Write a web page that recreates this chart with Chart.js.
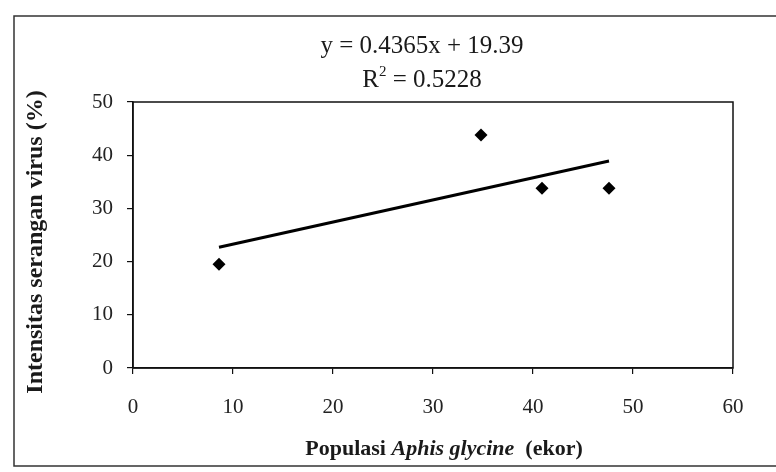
<!DOCTYPE html>
<html><head><meta charset="utf-8">
<script src="https://cdn.jsdelivr.net/npm/chart.js@4"></script>
<style>html,body{margin:0;padding:0;background:#fff;}#wrap{width:776px;height:472px;position:relative;}</style>
</head><body><div id="wrap"><canvas id="c" width="776" height="472"></canvas></div>
<script>
const populasi = [8.6, 34.8, 40.9, 47.6];
const intensitas = [19.5, 43.8, 33.8, 33.8];
const trendX = [8.6, 47.6];
const trendY = [22.7, 38.9];
const xTicks = [0, 10, 20, 30, 40, 50, 60];
const yTicks = [0, 10, 20, 30, 40, 50];
const equationText = "y = 0.4365x + 19.39";
const r2Label = "R";
const r2Value = " = 0.5228";
const yTitle = "Intensitas serangan virus (%)";
const xTitleParts = [["Populasi ", "bold"], ["Aphis glycine", "italic bold"], ["  (ekor)", "bold"]];

const serif = '"Liberation Serif", "DejaVu Serif", serif';

const decor = {
  id: 'decor',
  afterDraw(chart) {
    const ctx = chart.ctx, a = chart.chartArea;
    ctx.save();
    // outer border
    ctx.strokeStyle = '#333'; ctx.lineWidth = 1.5;
    ctx.beginPath();
    ctx.moveTo(776, 16); ctx.lineTo(14, 16); ctx.lineTo(14, 466); ctx.lineTo(776, 466);
    ctx.stroke();
    // plot frame
    ctx.strokeStyle = '#111'; ctx.lineWidth = 1.5;
    ctx.strokeRect(a.left, a.top, a.right - a.left, a.bottom - a.top);
    // equation
    ctx.fillStyle = '#1a1a1a';
    ctx.textAlign = 'center'; ctx.textBaseline = 'alphabetic';
    ctx.font = '25px ' + serif;
    ctx.fillText(equationText, 422, 53);
    const w1 = ctx.measureText(r2Label).width;
    const w2 = ctx.measureText(r2Value).width;
    ctx.font = '15px ' + serif;
    const ws = ctx.measureText('2').width;
    const total = w1 + ws + w2;
    let x0 = 422 - total / 2;
    ctx.textAlign = 'left';
    ctx.font = '25px ' + serif;
    ctx.fillText(r2Label, x0, 87);
    ctx.font = '15px ' + serif;
    ctx.fillText('2', x0 + w1, 76);
    ctx.font = '25px ' + serif;
    ctx.fillText(r2Value, x0 + w1 + ws, 87);
    // y title
    ctx.save();
    ctx.translate(42, 242);
    ctx.rotate(-Math.PI / 2);
    ctx.textAlign = 'center';
    ctx.font = 'bold 24px ' + serif;
    ctx.fillText(yTitle, 0, 0);
    ctx.restore();
    // x title
    let widths = xTitleParts.map(p => { ctx.font = p[1] + ' 22px ' + serif; return ctx.measureText(p[0]).width; });
    let tw = widths.reduce((s, v) => s + v, 0);
    let xx = 444 - tw / 2;
    ctx.textAlign = 'left';
    xTitleParts.forEach((p, i) => { ctx.font = p[1] + ' 22px ' + serif; ctx.fillText(p[0], xx, 455); xx += widths[i]; });
    ctx.restore();
  }
};

new Chart(document.getElementById('c'), {
  type: 'scatter',
  data: {
    datasets: [
      {
        label: 'data',
        data: populasi.map((x, i) => ({x: x, y: intensitas[i]})),
        pointStyle: 'rectRot', radius: 6.5, backgroundColor: '#000', borderColor: '#000', borderWidth: 0,
        showLine: false
      },
      {
        label: 'trend',
        data: trendX.map((x, i) => ({x: x, y: trendY[i]})),
        showLine: true, borderColor: '#000', borderWidth: 3, pointRadius: 0, fill: false
      }
    ]
  },
  options: {
    responsive: false, animation: false, devicePixelRatio: 1,
    layout: {padding: {left: 0, top: 102, right: 43, bottom: 0}},
    plugins: {legend: {display: false}, tooltip: {enabled: false}},
    scales: {
      x: {
        type: 'linear', min: 0, max: 60,
        afterBuildTicks: s => { s.ticks = xTicks.map(v => ({value: v})); },
        afterFit: s => { s.height = 104; },
        grid: {display: true, drawOnChartArea: false, drawTicks: true, tickLength: 6, color: '#111', lineWidth: 1.2},
        border: {display: true, color: '#111', width: 1.5},
        ticks: {color: '#222', font: {family: serif, size: 21}, padding: 21, maxRotation: 0}
      },
      y: {
        type: 'linear', min: 0, max: 50,
        afterBuildTicks: s => { s.ticks = yTicks.map(v => ({value: v})); },
        afterFit: s => { s.width = 133; },
        grid: {display: true, drawOnChartArea: false, drawTicks: true, tickLength: 6, color: '#111', lineWidth: 1.2},
        border: {display: true, color: '#111', width: 1.5},
        ticks: {color: '#222', font: {family: serif, size: 21}, padding: 14}
      }
    }
  },
  plugins: [decor]
});
</script></body></html>
